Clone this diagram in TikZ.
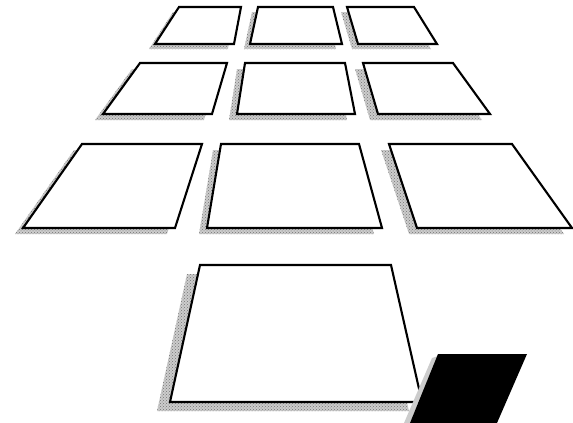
\documentclass[tikz,border=0pt]{standalone}
\usetikzlibrary{patterns}

% one tile: four corners, then the offset of its shadow
\newcommand{\tile}[5]{%
    \fill[tileshadow, shift={#5}] #1 -- #2 -- #3 -- #4 -- cycle;
    \fill[tiledots, shift={#5}] #1 -- #2 -- #3 -- #4 -- cycle;
    \draw[tileface] #1 -- #2 -- #3 -- #4 -- cycle;
}

\begin{document}
\begin{tikzpicture}[x=1pt, y=-1pt,
    tileface/.style={draw=black, line width=2.1pt, fill=white, line join=miter},
    tileshadow/.style={fill=gray!40},
    tiledots/.style={pattern=crosshatch dots, pattern color=gray!90!black}]
    \useasboundingbox (0,0) rectangle (573,423);

    % back row
    \tile{(179,7)}{(241,7)}{(234,44)}{(155,44)}{(-6,5)}
    \tile{(258,7)}{(333,7)}{(342,44)}{(250,44)}{(-6,5)}
    \tile{(347,7)}{(414,7)}{(437,44)}{(358,44)}{(-6,5)}

    % second row
    \tile{(140,63)}{(227,63)}{(212,114)}{(103,114)}{(-8,6)}
    \tile{(245,63)}{(345,63)}{(355,114)}{(237,114)}{(-8,6)}
    \tile{(363,63)}{(453,63)}{(490,114)}{(378,114)}{(-8,6)}

    % third row
    \tile{(82,144)}{(202,144)}{(175,228)}{(23,228)}{(-8,6)}
    \tile{(221,144)}{(359,144)}{(382,228)}{(207,228)}{(-8,6)}
    \tile{(389,144)}{(512,144)}{(572,228)}{(417,228)}{(-8,6)}

    % front tile
    \tile{(200,265)}{(391,265)}{(422,402)}{(170,402)}{(-13,9)}

    % dark tile in front, cut by the lower edge
    \fill[tileshadow] (432,358) -- (438,356) -- (410,423) -- (404,423) -- cycle;
    \fill[black] (438,354) -- (527,354) -- (497,423) -- (410,423) -- cycle;
\end{tikzpicture}
\end{document}
